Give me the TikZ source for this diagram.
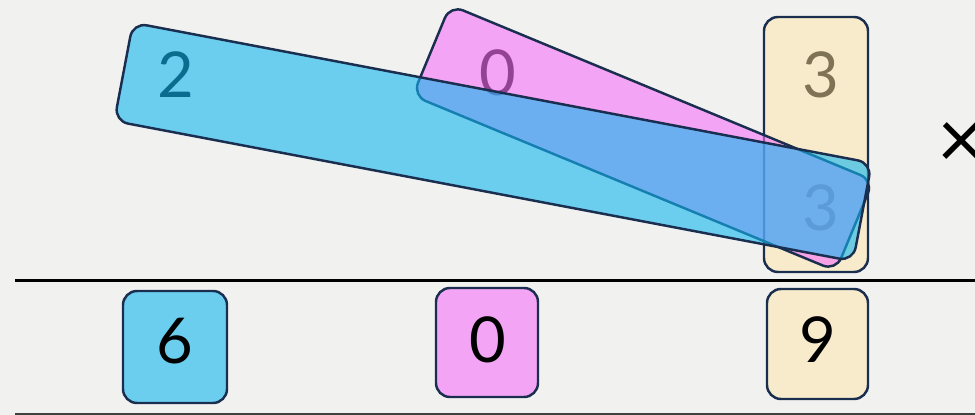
\documentclass[tikz,border=0pt]{standalone}
\usepackage{fontspec}
\setmainfont{Lato}
\usepackage{tikz}
\usetikzlibrary{positioning}
\definecolor{paper}    {HTML}{F1F1EF}
\definecolor{cardline} {HTML}{1A2E50}
\definecolor{cyancard} {RGB}{18,183,240}
\definecolor{pinkcard} {RGB}{247,113,248}
\definecolor{sandcard} {RGB}{254,230,170}

\begin{document}
\begin{tikzpicture}[x=0.2mm,y=-0.2mm,
  digit/.style={font=\fontsize{36}{40}\selectfont,inner sep=0pt},
  card/.style={draw=cardline,line width=1.4pt,rounded corners=2.8mm,
               inner sep=0pt},
  cyancard/.style={card,fill=cyancard,fill opacity=0.6},
  pinkcard/.style={card,fill=pinkcard,fill opacity=0.6},
  sandcard/.style={card,fill=sandcard,fill opacity=0.5},
  rule/.style={line width=1.4pt}
]
\useasboundingbox (0,0) rectangle (975,415);
\fill[paper] (0,0) rectangle (975,415);

% digits of the factors, covered by the cards
\node[digit] (f2) at (176,75)  {2};
\node[digit] (f0) at (498,73)  {0};
\node[digit] (g3) at (821,75)  {3};
\node[digit] (h3) at (821,208) {3};
\node[font=\fontsize{47}{47}\selectfont\addfontfeatures{Weight=300},inner sep=0pt] (times) at (961,146) {×};

\node[sandcard,minimum width=20.8mm,minimum height=51mm] (s3) at (816,144.5) {};
\node[pinkcard,rotate=-22.5,minimum width=91.6mm,minimum height=19.6mm] (p0) at (643,138) {};
\node[cyancard,rotate=-10.75,minimum width=150.4mm,minimum height=20mm] (c2) at (493,142) {};

\draw[rule] (15,280.5) -- (975,280.5);

% products
\node[cyancard,minimum width=20.8mm,minimum height=22.4mm] (c6) at (175,347) {};
\node[pinkcard,minimum width=20.4mm,minimum height=21.8mm] (p0b) at (487,342.5) {};
\node[sandcard,minimum width=20.2mm,minimum height=22mm] (s9) at (817.5,344) {};
\node[digit] (r6) at (175,341) {6};
\node[digit] (r0) at (488,340) {0};
\node[digit] (r9) at (818,340) {9};

\draw[line width=1pt,black!75] (15,414) -- (975,414);
\end{tikzpicture}
\end{document}
